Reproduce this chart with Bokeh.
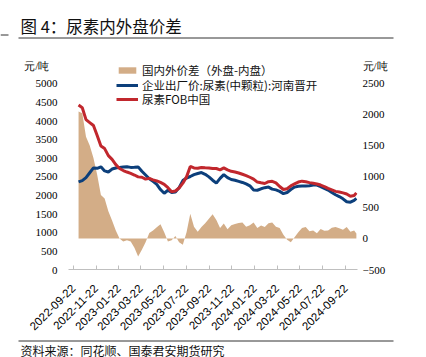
import pandas as pd
from bokeh.plotting import figure
from bokeh.models import (Range1d, LinearAxis, FixedTicker, DatetimeTickFormatter,
                          Legend, LegendItem, ColumnDataSource)
from bokeh.layouts import column
from bokeh.core.properties import value
from bokeh.embed import file_html
from bokeh.resources import INLINE

# ---------------- data ----------------
dates = [
    "2022-10-06", "2022-10-16", "2022-10-26", "2022-11-05", "2022-11-15", "2022-11-25",
    "2022-12-05", "2022-12-15", "2022-12-25", "2023-01-04", "2023-01-14", "2023-01-24",
    "2023-02-03", "2023-02-13", "2023-02-23", "2023-03-05", "2023-03-15", "2023-03-25",
    "2023-04-04", "2023-04-14", "2023-04-24", "2023-05-04", "2023-05-14", "2023-05-24",
    "2023-06-03", "2023-06-13", "2023-06-23", "2023-07-03", "2023-07-13", "2023-07-23",
    "2023-08-02", "2023-08-12", "2023-08-22", "2023-09-01", "2023-09-11", "2023-09-21",
    "2023-10-01", "2023-10-11", "2023-10-21", "2023-10-31", "2023-11-10", "2023-11-20",
    "2023-11-30", "2023-12-10", "2023-12-20", "2023-12-30", "2024-01-09", "2024-01-19",
    "2024-01-29", "2024-02-08", "2024-02-18", "2024-02-28", "2024-03-09", "2024-03-19",
    "2024-03-29", "2024-04-08", "2024-04-18", "2024-04-28", "2024-05-08", "2024-05-18",
    "2024-05-28", "2024-06-07", "2024-06-17", "2024-06-27", "2024-07-07", "2024-07-17",
    "2024-07-27", "2024-08-06", "2024-08-16", "2024-08-26", "2024-09-05", "2024-09-15",
    "2024-09-25", "2024-10-05", "2024-10-15", "2024-10-21",
]

fob_china = [
    4420, 4350, 4030, 3950, 3870, 3600, 3320, 3250, 3060, 2960, 2820, 2715,
    2660, 2620, 2585, 2540, 2490, 2480, 2430, 2450, 2410, 2380, 2340, 2290,
    2200, 2090, 2110, 2190, 2320, 2490, 2770, 2730, 2720, 2742, 2735, 2730,
    2715, 2715, 2680, 2730, 2680, 2640, 2620, 2595, 2560, 2525, 2480, 2430,
    2350, 2330, 2312, 2360, 2370, 2330, 2230, 2150, 2170, 2250, 2300, 2350,
    2375, 2360, 2335, 2320, 2300, 2270, 2230, 2180, 2140, 2100, 2085, 2060,
    2030, 1970, 1990, 2060,
]

factory_price = [
    2355, 2390, 2470, 2600, 2730, 2720, 2760, 2650, 2620, 2700, 2730, 2745,
    2755, 2760, 2745, 2750, 2758, 2640, 2540, 2440, 2370, 2290, 2150, 2050,
    2130, 2070, 2080, 2200, 2390, 2460, 2500, 2550, 2580, 2607, 2560, 2490,
    2400, 2320, 2450, 2550, 2470, 2420, 2400, 2370, 2340, 2300, 2250, 2140,
    2130, 2170, 2200, 2215, 2160, 2140, 2100, 2040, 2070, 2150, 2215, 2240,
    2247, 2247, 2250, 2270, 2270, 2230, 2180, 2135, 2070, 2010, 1960, 1900,
    1820, 1810, 1860, 1910,
]

spread = [
    2050, 2020, 1640, 1500, 1300, 1030, 700, 645, 440, 290, 130, 0,
    -50, -27, -50, -150, -290, -180, -60, 90, 130, 180, 230, 100,
    -50, -27, 40, -60, -100, 100, 400, 190, 110, 187, 245, 320,
    390, 300, 170, 240, 150, 215, 235, 250, 260, 190, 215, 260,
    170, 210, 187, 245, 260, 190, 170, 60, -20, -60, 20, 100,
    170, 187, 115, 130, 85, 155, 125, 130, 175, 185, 165, 140,
    185, 110, 130, 80,
]

left_ticks = [0, 500, 1000, 1500, 2000, 2500, 3000, 3500, 4000, 4500, 5000]
right_ticks = [-500, 0, 500, 1000, 1500, 2000, 2500]
x_tick_labels = [
    "2022-09-22", "2022-11-22", "2023-01-22", "2023-03-22", "2023-05-22",
    "2023-07-22", "2023-09-22", "2023-11-22", "2024-01-22", "2024-03-22",
    "2024-05-22", "2024-07-22", "2024-09-22",
]

series_names = ["国内外价差（外盘-内盘）", "企业出厂价:尿素(中颗粒):河南晋开", "尿素FOB中国"]
title_text = "图 4：尿素内外盘价差"
source_text = "资料来源：同花顺、国泰君安期货研究"
unit_text = "元/吨"

# ---------------- styling ----------------
TAN = "#D3AD87"
BLUE = "#0C3F7B"
RED = "#C1272D"
CJK = "Noto Sans CJK SC"
W = 426
TOP_H, MAIN_H, FOOT_H = 40, 299, 18
FRAME_TOP, FRAME_BOTTOM = 58, 269          # page pixels
LEFT_UNIT_POS, RIGHT_UNIT_POS = 5457, 2774  # axis positions of the unit captions


def no_align(fig):
    try:
        fig.frame_align = False
    except Exception:
        pass


# ---------------- title strip (page coordinates) ----------------
t = figure(width=W, height=TOP_H, x_range=Range1d(0, W), y_range=Range1d(TOP_H, 0),
           x_axis_location=None, y_axis_location=None, toolbar_location=None,
           output_backend="svg", min_border=0, outline_line_color=None)
no_align(t)
t.grid.visible = False
t.text(x=[20], y=[25], text=[title_text], text_font=value(CJK), text_font_size="16.5px",
       text_baseline="middle", text_color="#111111")
t.segment(x0=[18, 0], y0=[37.5, 34.5], x1=[393, 8], y1=[37.5, 34.5],
          line_color="#333333", line_width=1)

# ---------------- main chart ----------------
src = ColumnDataSource(dict(date=pd.to_datetime(dates), fob=fob_china,
                            factory=factory_price, spread=spread))

x0 = pd.Timestamp("2022-09-09")
x1 = pd.Timestamp("2024-10-24")
p = figure(width=W, height=MAIN_H, x_axis_type="datetime",
           x_range=Range1d(x0, x1), y_range=Range1d(0, 5672),
           toolbar_location=None, output_backend="svg",
           min_border_left=68, min_border_right=W - 357,
           min_border_top=FRAME_TOP - TOP_H,
           min_border_bottom=TOP_H + MAIN_H - FRAME_BOTTOM,
           outline_line_color=None, background_fill_color="white")
no_align(p)
p.extra_y_ranges = {"spread": Range1d(-500, 2903)}
p.grid.visible = False

area_r = p.varea(x="date", y1=0, y2="spread", source=src, y_range_name="spread",
                 fill_color=TAN, fill_alpha=1.0)
blue_r = p.line(x="date", y="factory", source=src, line_color=BLUE, line_width=3)
red_r = p.line(x="date", y="fob", source=src, line_color=RED, line_width=3)

tick_font = "Liberation Sans Narrow"
p.yaxis.ticker = FixedTicker(ticks=left_ticks + [LEFT_UNIT_POS])
p.yaxis.major_label_overrides = {LEFT_UNIT_POS: unit_text + "\u00a0" * 3}
p.yaxis.axis_line_color = None
p.yaxis.major_tick_line_color = None
p.yaxis.major_tick_out = 0
p.yaxis.major_tick_in = 0
p.yaxis.minor_tick_line_color = None
p.yaxis.major_label_text_font = tick_font
p.yaxis.major_label_text_font_size = "11px"
p.yaxis.major_label_text_color = "#000000"
p.yaxis.major_label_standoff = 11

ra = LinearAxis(y_range_name="spread", ticker=FixedTicker(ticks=right_ticks + [RIGHT_UNIT_POS]))
ra.major_label_overrides = {RIGHT_UNIT_POS: unit_text}
ra.axis_line_color = None
ra.major_tick_line_color = None
ra.major_tick_out = 0
ra.major_tick_in = 0
ra.minor_tick_line_color = None
ra.major_label_text_font = tick_font
ra.major_label_text_font_size = "11px"
ra.major_label_text_color = "#000000"
ra.major_label_standoff = 5
p.add_layout(ra, "right")

xt = [pd.Timestamp(s).value // 10**6 for s in x_tick_labels]
p.xaxis.ticker = FixedTicker(ticks=xt)
fmt = "%Y-%m-%d"
p.xaxis.formatter = DatetimeTickFormatter(
    milliseconds=fmt, seconds=fmt, minsec=fmt, minutes=fmt, hourmin=fmt, hours=fmt,
    days=fmt, months=fmt, years=fmt)
p.xaxis.major_label_orientation = 0.785398
p.xaxis.axis_line_color = "#BFBFBF"
p.xaxis.major_tick_line_color = "#BFBFBF"
p.xaxis.major_tick_in = 4
p.xaxis.major_tick_out = 0
p.xaxis.minor_tick_line_color = None
p.xaxis.major_label_text_font = "Liberation Sans"
p.xaxis.major_label_text_font_size = "11.5px"
p.xaxis.major_label_text_color = "#000000"
p.xaxis.major_label_standoff = 17

# one legend per entry, so each row sits exactly where the reference has it
legend_rows = [(series_names[0], area_r, 70), (series_names[1], blue_r, 84.5),
               (series_names[2], red_r, 99)]
ROW_H = 17
for name, rend, yc in legend_rows:
    p.add_layout(Legend(
        items=[LegendItem(label=name, renderers=[rend])],
        location=(116 - 68, FRAME_BOTTOM - (yc + ROW_H / 2)),
        label_text_font=CJK, label_text_font_size="11.5px", label_text_color="#111111",
        glyph_width=22, glyph_height=8, label_height=ROW_H, spacing=0, padding=0, margin=0,
        label_standoff=4, border_line_alpha=0, background_fill_alpha=0))

# ---------------- footer strip (page coordinates) ----------------
y_top = TOP_H + MAIN_H
f = figure(width=W, height=FOOT_H, x_range=Range1d(0, W), y_range=Range1d(y_top + FOOT_H, y_top),
           x_axis_location=None, y_axis_location=None, toolbar_location=None,
           output_backend="svg", min_border=0, outline_line_color=None)
no_align(f)
f.grid.visible = False
f.segment(x0=[18, 0], y0=[340.5, 337.5], x1=[393, 7], y1=[340.5, 337.5],
          line_color="#333333", line_width=1)
f.text(x=[20], y=[349.5], text=[source_text], text_font=value(CJK), text_font_size="12px",
       text_baseline="middle", text_color="#111111")

layout = column(t, p, f, spacing=0)
open("out.html", "w").write(file_html(layout, INLINE))
